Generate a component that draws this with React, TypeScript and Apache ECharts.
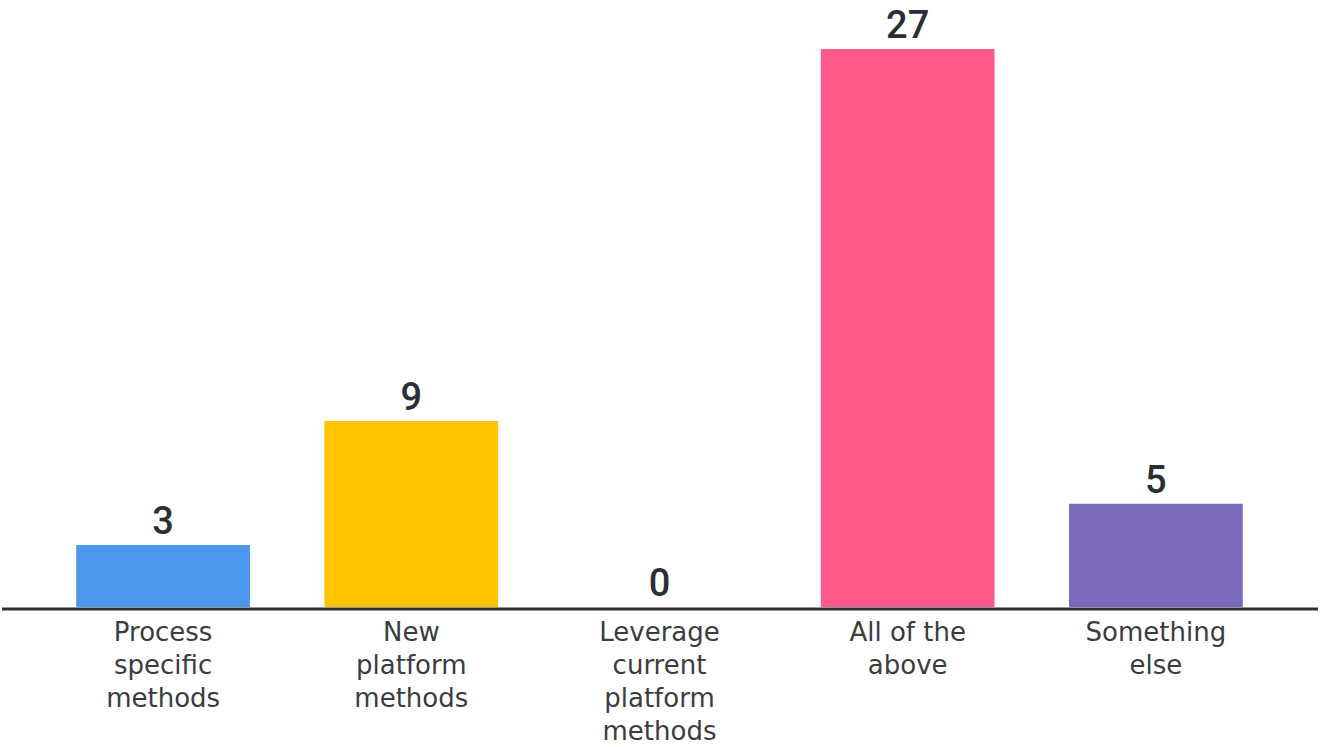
import React, { useEffect, useRef } from "react";
import * as echarts from "echarts";

const categories = [
  "Process\nspecific\nmethods",
  "New\nplatform\nmethods",
  "Leverage\ncurrent\nplatform\nmethods",
  "All of the\nabove",
  "Something\nelse",
];
const values = [3, 9, 0, 27, 5];
const colorsByIndex = ["#4A98EE", "#FFC400", "#FFC400", "#FF5A8A", "#7B69BE"];

export default function App() {
  const ref = useRef<HTMLDivElement>(null);
  useEffect(() => {
    if (!ref.current) return;
    const chart = echarts.init(ref.current, null, { renderer: "svg" });
    const textColor = "#2C2E35";
    chart.setOption({
      animation: false,
      backgroundColor: "#ffffff",
      grid: { left: 39, right: 41, top: 49, bottom: 138, containLabel: false },
      xAxis: {
        type: "category",
        data: categories,
        axisLine: { show: false },
        axisTick: { show: false },
        axisLabel: {
          margin: 8,
          color: "#3A3C42",
          fontFamily: "DejaVu Sans",
          fontSize: 26,
          fontWeight: "normal",
          lineHeight: 33,
          interval: 0,
        },
      },
      yAxis: {
        type: "value",
        min: 0,
        max: 27,
        show: false,
        splitLine: { show: false },
      },
      graphic: [
        {
          type: "line",
          shape: { x1: 2, y1: 609, x2: 1318, y2: 609 },
          style: { stroke: "#2B2D33", lineWidth: 3 },
          z: 10,
        },
      ],
      series: [
        {
          type: "bar",
          data: values.map((v, i) => ({ value: v, itemStyle: { color: colorsByIndex[i] } })),
          barCategoryGap: "30%",
          label: {
            show: true,
            position: "top",
            distance: 6,
            color: textColor,
            fontFamily: "Roboto",
            fontSize: 38,
            fontWeight: 500,
            lineHeight: 36,
          },
        },
      ],
    });
    return () => chart.dispose();
  }, []);
  return (
    <div
      ref={ref}
      style={{ position: "fixed", left: 0, top: 0, width: 1321, height: 747, background: "#fff" }}
    />
  );
}
